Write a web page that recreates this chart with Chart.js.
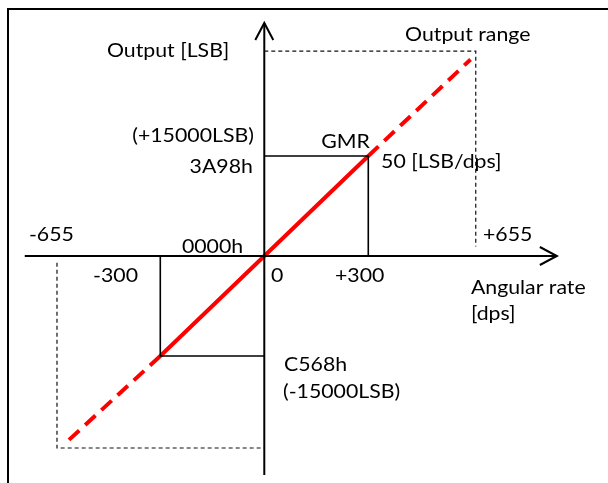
<!DOCTYPE html>
<html>
<head>
<meta charset="utf-8">
<script src="https://cdn.jsdelivr.net/npm/chart.js@4/dist/chart.umd.min.js"></script>
<style>
  html, body { margin: 0; padding: 0; background: #fff; }
  #wrap { width: 608px; height: 483px; }
</style>
</head>
<body>
<div id="wrap"><canvas id="gmrChart" width="608" height="483"></canvas></div>
<script>
// Angular rate [dps] vs output [LSB], sensitivity 50 LSB/dps (diagram, not to scale)
const rateSolid = [-300, 0, 300];
const lsbSolid = [-15000, 0, 15000];
const rateDashHigh = [300, 595];
const lsbDashHigh = [15000, 29475];
const rateDashLow = [-300, -578];
const lsbDashLow = [-15000, -28275];

// +-300 dps guides
const guideRate = [300, 300, 0];
const guideLsb = [0, 15000, 15000];
const guideRateNeg = [-300, -300, 0];
const guideLsbNeg = [0, -15000, -15000];

// output range box (drawn where the +-655 dps edges sit in the diagram)
const rangeHiRate = [0, 610, 610];
const rangeHiLsb = [30720, 30720, 1425];
const rangeLoRate = [-598, -598, 0];
const rangeLoLsb = [-1000, -28800, -28800];

// axes
const axisRate = [-691, 844];
const axisLsb = [-32850, 34950];

const xTickLabels = ['-655', '-300', '0', '+300', '+655'];
const yTickLabels = ['(+15000LSB)', '3A98h', '0000h', 'C568h', '(-15000LSB)'];

function pts(xs, ys) { return xs.map((x, i) => ({ x: x, y: ys[i] })); }

const FONT = '19px Lato';
const TEXT_SX = 1.12;

// text items: [text, rate, lsb, align]
const labels = [
    ['Output range', 406, 32250, 'left'],
    ['Output [LSB]', -454, 29850, 'left'],
    [yTickLabels[0], -30, 17100, 'right'],
    [yTickLabels[1], -33, 12450, 'right'],
    ['GMR', 164, 16200, 'left'],
    ['50 [LSB/dps]', 337, 13200, 'left'],
    [xTickLabels[0], -679, 2250, 'left'],
    [yTickLabels[2], -61, 450, 'right'],
    [xTickLabels[4], 631, 2250, 'left'],
    [xTickLabels[1], -494, -3900, 'left'],
    [xTickLabels[2], 19, -3900, 'left'],
    [xTickLabels[3], 204, -3900, 'left'],
    ['Angular rate', 596, -5700, 'left'],
    ['[dps]', 596, -9600, 'left'],
    [yTickLabels[3], 57, -17250, 'left'],
    [yTickLabels[4], 54, -21300, 'left']
];

const diagramPlugin = {
    id: 'diagram',
    beforeDraw(chart) {
        const ctx = chart.ctx;
        ctx.save();
        ctx.strokeStyle = '#000';
        ctx.lineWidth = 2;
        ctx.beginPath();
        ctx.moveTo(8, 490);
        ctx.lineTo(8, 9);
        ctx.lineTo(620, 9);
        ctx.stroke();
        ctx.restore();
    },
    afterDatasetsDraw(chart) {
        const ctx = chart.ctx;
        const xs = chart.scales.x, ys = chart.scales.y;
        const x0 = xs.getPixelForValue(0), y0 = ys.getPixelForValue(0);
        const xEnd = xs.getPixelForValue(axisRate[1]);
        const yEnd = ys.getPixelForValue(axisLsb[1]);
        ctx.save();
        ctx.strokeStyle = '#000';
        ctx.lineWidth = 2;
        ctx.beginPath();
        ctx.moveTo(xEnd - 17, y0 - 9);
        ctx.lineTo(xEnd, y0);
        ctx.lineTo(xEnd - 17, y0 + 9);
        ctx.moveTo(x0 - 9, yEnd + 17);
        ctx.lineTo(x0, yEnd);
        ctx.lineTo(x0 + 9, yEnd + 17);
        ctx.stroke();

        ctx.fillStyle = '#000';
        ctx.font = FONT;
        ctx.textBaseline = 'alphabetic';
        labels.forEach(([text, rx, ly, align]) => {
            ctx.save();
            ctx.translate(xs.getPixelForValue(rx), ys.getPixelForValue(ly));
            ctx.scale(TEXT_SX, 1);
            ctx.textAlign = align;
            ctx.fillText(text, 0, 0);
            ctx.restore();
        });
        ctx.restore();
    }
};

function lineSet(data, color, width, dash) {
    return {
        data: data,
        showLine: true,
        borderColor: color,
        borderWidth: width,
        borderDash: dash || [],
        pointRadius: 0,
        fill: false,
        tension: 0
    };
}

function initDiagram() {
    const ctx = document.getElementById('gmrChart').getContext('2d');
    new Chart(ctx, {
        type: 'scatter',
        data: {
            datasets: [
                lineSet(pts(rangeHiRate, rangeHiLsb), '#111', 1.2, [4, 3]),
                lineSet(pts(rangeLoRate, rangeLoLsb), '#111', 1.2, [4, 3]),
                lineSet(pts(guideRate, guideLsb), '#000', 1.6),
                lineSet(pts(guideRateNeg, guideLsbNeg), '#000', 1.6),
                lineSet(pts(axisRate, [0, 0]), '#000', 2),
                lineSet(pts([0, 0], axisLsb), '#000', 2),
                lineSet(pts(rateDashHigh, lsbDashHigh), '#ff0000', 4, [14, 8]),
                lineSet(pts(rateDashLow, lsbDashLow), '#ff0000', 4, [14, 8]),
                lineSet(pts(rateSolid, lsbSolid), '#ff0000', 4)
            ]
        },
        options: {
            responsive: false,
            animation: false,
            events: [],
            layout: { padding: 0 },
            plugins: { legend: { display: false }, tooltip: { enabled: false } },
            scales: {
                x: { type: 'linear', display: false, min: -762.4, max: 991.5 },
                y: { type: 'linear', display: false, min: -34050, max: 38400 }
            }
        },
        plugins: [diagramPlugin]
    });
}

document.addEventListener('DOMContentLoaded', initDiagram);
</script>
</body>
</html>
